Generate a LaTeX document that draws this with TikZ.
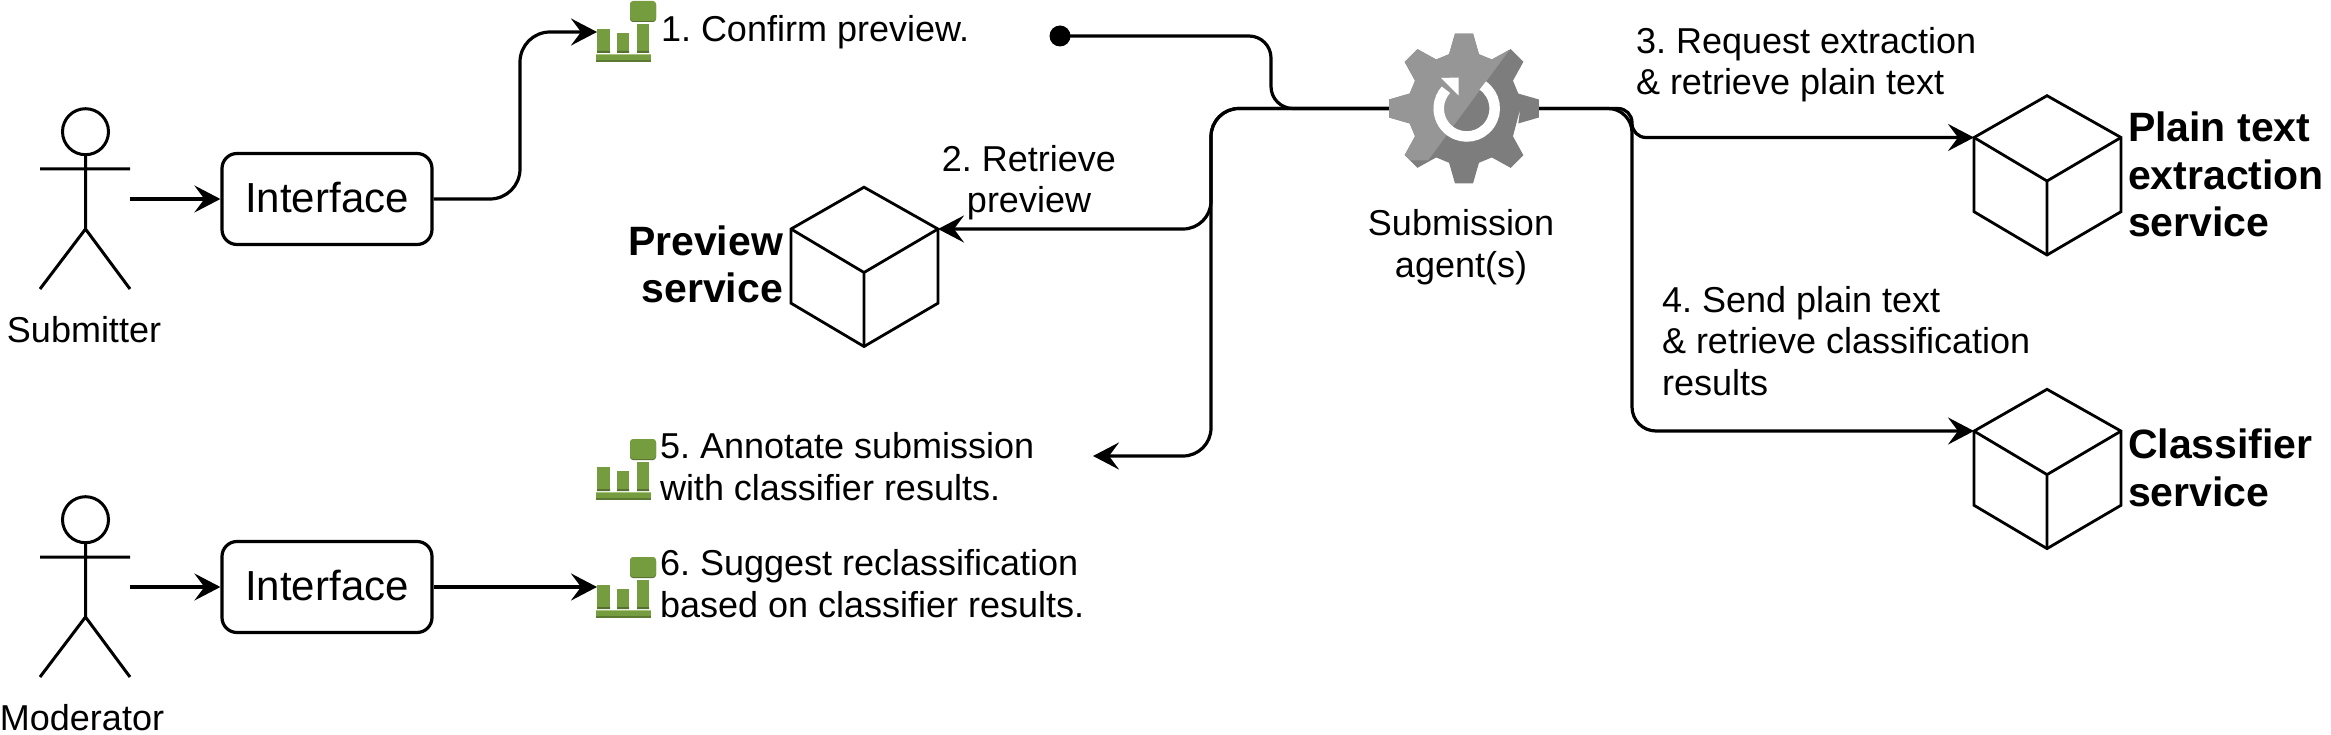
\documentclass[tikz,border=0pt]{standalone}
\usepackage{fontspec}
\setmainfont{Liberation Sans}
\frenchspacing
\usetikzlibrary{arrows.meta}
\definecolor{iconGreen}{HTML}{759C3E}
\definecolor{iconDark}{HTML}{4B612C}
\definecolor{iconLight}{HTML}{A7C57A}
\definecolor{gearLight}{HTML}{969696}
\definecolor{gearDark}{HTML}{7D7D7D}
\tikzset{
  wire/.style={line width=3.2pt,line join=round,-{Stealth[length=26pt,width=27pt,inset=10pt]}},
  plainwire/.style={line width=3.2pt,line join=round},
  figure/.style={line width=3pt,line cap=butt},
  cubeline/.style={line width=2.8pt,line join=miter},
  lbl/.style={inner sep=0pt,outer sep=0pt,font=\frenchspacing\fontsize{36}{41.5}\selectfont,align=left},
  lblc/.style={inner sep=0pt,outer sep=0pt,font=\frenchspacing\fontsize{36}{41}\selectfont,align=center},
  bold/.style={inner sep=0pt,outer sep=0pt,font=\fontsize{41}{47.5}\selectfont\bfseries,align=left},
  boldr/.style={inner sep=0pt,outer sep=0pt,font=\fontsize{41}{47}\selectfont\bfseries,align=right},
  ifacebox/.style={draw,line width=3.2pt,rounded corners=15pt,minimum width=210pt,minimum height=91pt,inner sep=0pt,font=\fontsize{42}{47}\selectfont,text depth=0pt},
  hub/.style={minimum width=150pt,minimum height=150pt,inner sep=0pt,outer sep=0pt},
  dotnode/.style={circle,fill=black,minimum size=21pt,inner sep=0pt,outer sep=0pt}
}
\newcommand{\actorfig}[1]{%
  \begin{scope}[shift={(0,#1)}]
    \draw[figure] (85.5,131.7) circle[radius=23pt];
    \draw[figure] (85.5,154.7) -- (85.5,229) (40,169) -- (130,169) (40,289) -- (85.5,229) -- (130,289);
  \end{scope}}
\newcommand{\barsfig}[1]{%
  \begin{scope}[shift={(0,#1)}]
    \fill[iconGreen] (597,29) rectangle (610,53);
    \fill[iconGreen] (617,33) rectangle (629,53);
    \fill[iconGreen] (637,24) rectangle (649,53);
    \fill[iconDark!75!iconGreen] (597,51) rectangle (610,53) (617,51) rectangle (629,53) (637,51) rectangle (649,53);
    \fill[iconGreen] (596,54) rectangle (651,62);
    \fill[iconLight] (596,54) rectangle (651,55);
    \fill[iconDark!60!iconGreen] (596,60) rectangle (651,62);
    \fill[iconDark!75!iconGreen,rounded corners=3pt] (630,2) rectangle (656,22);
    \fill[iconGreen,rounded corners=3pt] (630,1) rectangle (656,21);
  \end{scope}}
\newcommand{\cubefig}[2]{%
  \begin{scope}[shift={(#1,#2)}]
    \draw[cubeline] (1974,137.5) -- (2047,95.7) -- (2121,137.5) -- (2121,211.7) -- (2047,255) -- (1974,211.7) -- cycle;
    \draw[cubeline] (1974,137.5) -- (2047,181) -- (2121,137.5) (2047,181) -- (2047,255);
  \end{scope}}
\begin{document}
\begin{tikzpicture}[x=1pt,y=-1pt]
\useasboundingbox (0,0) rectangle (2331,735);

% anchors
\coordinate (a1) at (130,199);
\coordinate (a2) at (130,587);
\coordinate (icon1) at (597,32);
\coordinate (icon6) at (597,587);
\coordinate (cubeP) at (938,229);
\coordinate (cubeT) at (1974,137.5);
\coordinate (cubeC) at (1974,431);
\coordinate (note5) at (1093,456);
\coordinate (bendA) at (520,32);
\coordinate (bendB) at (1271,36);
\coordinate (bendC) at (1211,108.5);
\coordinate (bendD) at (1632,108.5);

% figures and icons
\actorfig{0}
\actorfig{388}
\barsfig{0}
\barsfig{438}
\barsfig{556}
\cubefig{-1183}{91.5}
\cubefig{0}{0}
\cubefig{0}{293.6}

% nodes
\node[ifacebox] (if1) at (327,199) {\raisebox{2.5pt}{Interface}\hspace{8pt}};
\node[ifacebox] (if2) at (327,587) {\raisebox{2.5pt}{Interface}\hspace{8pt}};
\node[hub] (gear) at (1464,108.5) {};
\node[dotnode] (dot) at (1060,36) {};

% connectors
\draw[wire] (a1) -- (if1.west);
\draw[wire] (a2) -- (if2.west);
\draw[wire,rounded corners=30pt] (if1.east) -| (bendA) -- (icon1);
\draw[wire] (if2.east) -- (icon6);
\draw[plainwire,rounded corners=22pt] (dot.center) -- (bendB) |- (gear.west);
\draw[wire,rounded corners=28pt] (gear.west) -- (bendC) |- (cubeP);
\draw[wire,rounded corners=28pt] (gear.west) -- (bendC) |- (note5);
\draw[wire,rounded corners=14pt] (gear.east) -- (bendD) |- (cubeT);
\draw[wire,rounded corners=24pt] (gear.east) -- (bendD) |- (cubeC);

% gear
\begin{scope}[shift={(gear.center)}]
  \fill[gearDark] (0:56.3pt)
    \foreach \a in {0,45,...,315} { -- (\a-15.4:56.3pt) -- (\a-6.84:75.5pt) -- (\a+6.84:75.5pt) -- (\a+15.4:56.3pt) } -- cycle;
  \begin{scope}
    \clip (45,-58) -- (-36,52) -- (-90,52) -- (-90,-90) -- (45,-90) -- cycle;
    \fill[gearLight] (0:56.3pt)
      \foreach \a in {0,45,...,315} { -- (\a-15.4:56.3pt) -- (\a-6.84:75.5pt) -- (\a+6.84:75.5pt) -- (\a+15.4:56.3pt) } -- cycle;
  \end{scope}
  \draw[white,line width=10.5pt] (2.7,0) ++(55:28pt) arc[start angle=55,end angle=-222,radius=28pt];
  \fill[white] (-23,-30.5) -- (-5.5,-31) -- (-5.5,-13) -- cycle;
\end{scope}

% labels
\node[lbl,anchor=base west] (t1) at (661,41.5) {1. Confirm preview.};
\node[lblc,anchor=base] (t2) at (1029,212.5) {2. Retrieve\\preview};
\node[lbl,anchor=base west] (t3) at (1636,95) {3. Request extraction\\\& retrieve plain text};
\node[lbl,anchor=base west] (t4) at (1662,395) {4. Send plain text\\\& retrieve classification\\results};
\node[lbl,anchor=base west] (t5) at (660,500) {5. Annotate submission\\with classifier results.};
\node[lbl,anchor=base west] (t6) at (660,617) {6. Suggest reclassification\\based on classifier results.};
\node[lblc,anchor=base] (lg) at (1461,277) {Submission\\agent(s)};
\node[lblc,anchor=base] (ls) at (84,342) {Submitter};
\node[lblc,anchor=base] (lm) at (82,730) {Moderator};
\node[boldr,anchor=base east] (bp) at (783,302) {Preview\\service};
\node[bold,anchor=base west] (bt) at (2128,237) {Plain text\\extraction\\service};
\node[bold,anchor=base west] (bc) at (2128,506) {Classifier\\service};
\end{tikzpicture}
\end{document}
